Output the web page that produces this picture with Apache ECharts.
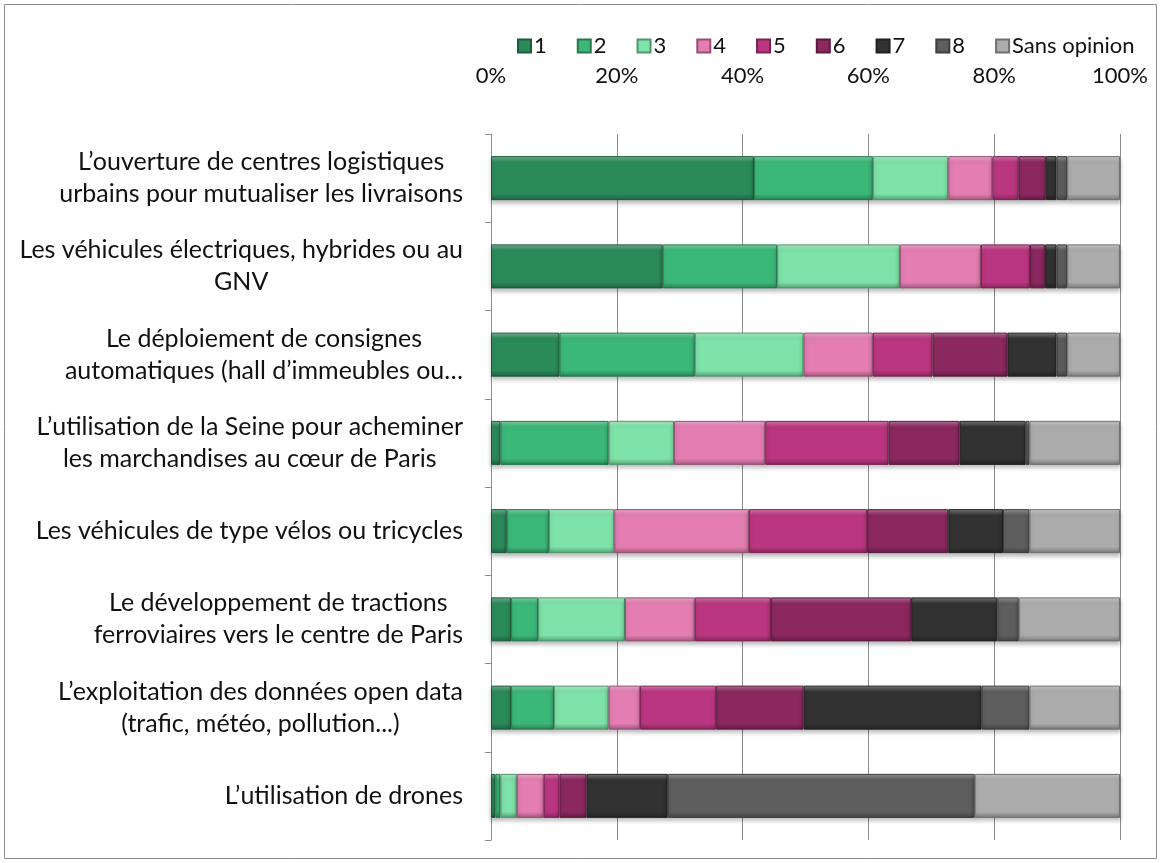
<!DOCTYPE html>
<html>
<head>
<meta charset="utf-8">
<script src="https://cdn.jsdelivr.net/npm/echarts@6/dist/echarts.min.js"></script>
<style>
  html, body { margin: 0; padding: 0; background: #fff; }
  #chart { width: 1161px; height: 863px; }
</style>
</head>
<body>
<div id="chart"></div>
<script>
'use strict';

var categories = [
   'L’ouverture de centres logistiques\nurbains pour mutualiser les livraisons',
   'Les véhicules électriques, hybrides ou au\nGNV',
   'Le déploiement de consignes\nautomatiques (hall d’immeubles ou…',
   'L’utilisation de la Seine pour acheminer\nles marchandises au cœur de Paris',
   'Les véhicules de type vélos ou tricycles',
   'Le développement de tractions\nferroviaires vers le centre de Paris',
   'L’exploitation des données open data\n(trafic, météo, pollution...)',
   'L’utilisation de drones'
];

var seriesNames = ['1', '2', '3', '4', '5', '6', '7', '8', 'Sans opinion'];

// percent per category
var s1 = [41.8, 27.3, 10.9, 1.5, 2.5, 3.2, 3.2, 0.7];
var s2 = [18.9, 18.2, 21.5, 17.2, 6.7, 4.3, 6.8, 0.8];
var s3 = [12.0, 19.5, 17.3, 10.4, 10.4, 13.8, 8.7, 2.6];
var s4 = [7.0, 12.9, 11.0, 14.5, 21.4, 11.1, 5.0, 4.3];
var s5 = [4.2, 7.8, 9.5, 19.6, 18.8, 12.1, 12.1, 2.5];
var s6 = [4.3, 2.4, 11.9, 11.3, 12.9, 22.3, 13.9, 4.3];
var s7 = [1.7, 1.8, 7.8, 10.5, 8.7, 13.7, 28.3, 12.9];
var s8 = [1.7, 1.7, 1.7, 0.6, 4.2, 3.4, 7.6, 48.8];
var sansOpinion = [8.4, 8.4, 8.4, 14.4, 14.4, 16.1, 14.4, 23.1];

var tickValues = [0, 20, 40, 60, 80, 100];

var colors = ['#2b8a5a', '#3bb878', '#7de3a8', '#e47db2', '#bb3680', '#8c2860', '#323232', '#5e5e5e', '#acacac'];

(function () {
   var allValues = [s1, s2, s3, s4, s5, s6, s7, s8, sansOpinion];
   var font = 'Lato';

   function mix(hex, target, t) {
      var r = parseInt(hex.substr(1, 2), 16);
      var g = parseInt(hex.substr(3, 2), 16);
      var b = parseInt(hex.substr(5, 2), 16);
      r = Math.round(r + (target - r) * t);
      g = Math.round(g + (target - g) * t);
      b = Math.round(b + (target - b) * t);
      return 'rgb(' + r + ',' + g + ',' + b + ')';
   }

   // fake the excel bevel with a light top edge and a dark bottom edge
   function bevel(c) {
      return {
         type: 'linear', x: 0, y: 0, x2: 0, y2: 1,
         colorStops: [
            { offset: 0, color: mix(c, 255, 0.35) },
            { offset: 0.14, color: c },
            { offset: 0.86, color: c },
            { offset: 1, color: mix(c, 0, 0.3) }
         ]
      };
   }

   var series = seriesNames.map(function (name, i) {
      return {
         name: name,
         type: 'bar',
         stack: 'total',
         barWidth: 44,
         data: allValues[i],
         itemStyle: {
            color: bevel(colors[i]),
            borderColor: mix(colors[i], 0, 0.35),
            borderWidth: 1,
            shadowColor: 'rgba(0,0,0,0.25)',
            shadowBlur: 4,
            shadowOffsetY: 3
         }
      };
   });

   var myChart = echarts.init(document.getElementById('chart'));

   var option = {
      animation: false,
      backgroundColor: '#fff',
      textStyle: { fontFamily: font },
      graphic: [{
         type: 'rect',
         shape: { x: 4.5, y: 4.5, width: 1152, height: 854 },
         style: { fill: 'none', stroke: '#8a8a8a', lineWidth: 1 },
         silent: true
      }],
      legend: {
         data: seriesNames.map(function (n, i) {
            return { name: n, itemStyle: { color: colors[i] } };
         }),
         top: 30,
         left: 512,
         icon: 'rect',
         itemWidth: 13,
         itemHeight: 13,
         itemGap: 30,
         textStyle: { fontFamily: font, fontSize: 22, color: '#111', padding: [0, 0, 0, -2] }
      },
      grid: {
         left: 491,
         right: 41,
         top: 134,
         bottom: 23,
         containLabel: false
      },
      xAxis: {
         type: 'value',
         position: 'top',
         min: tickValues[0],
         max: tickValues[tickValues.length - 1],
         interval: 20,
         axisLine: { show: false },
         axisTick: { show: false },
         axisLabel: {
            formatter: '{value}%',
            fontFamily: font,
            fontSize: 22,
            color: '#111',
            margin: 47
         },
         splitLine: { lineStyle: { color: '#8c8c8c', width: 1 } }
      },
      yAxis: {
         type: 'category',
         inverse: true,
         data: categories,
         axisLine: { lineStyle: { color: '#8c8c8c', width: 1 } },
         axisTick: { show: true, length: 6, lineStyle: { color: '#8c8c8c' } },
         axisLabel: {
            margin: 28,
            align: 'right',
            formatter: function (v) {
               return v.split('\n').map(function (l) { return '{c|' + l + '}'; }).join('\n');
            },
            rich: {
               c: { align: 'center', fontFamily: font, fontSize: 25, color: '#111', lineHeight: 32 }
            }
         }
      },
      series: series
   };

   myChart.setOption(option);
})();
</script>
</body>
</html>
